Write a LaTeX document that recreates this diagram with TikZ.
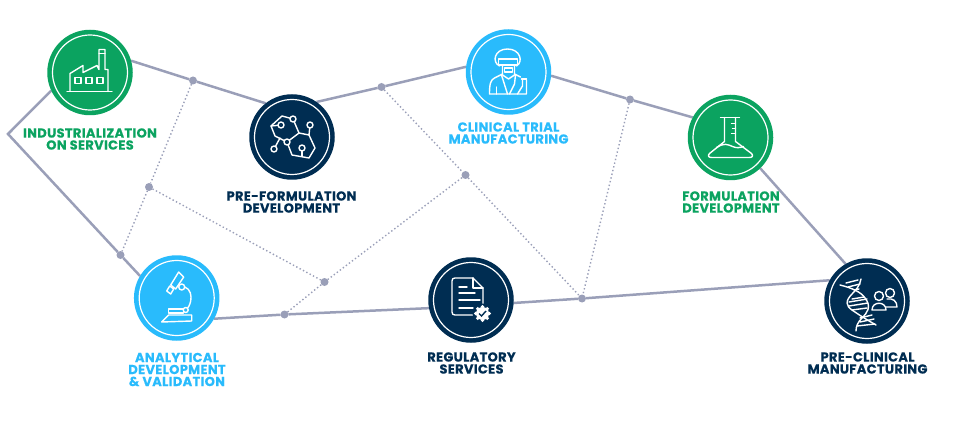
\documentclass[tikz,border=0pt]{standalone}
\usepackage{fontspec}
\newfontfamily\hublabelfont[LetterSpace=2.5,BoldFeatures={FakeBold=0.4}]{Poppins}
\usetikzlibrary{backgrounds}
\definecolor{hubgreen}{HTML}{0BA360}
\definecolor{hubnavy}{HTML}{002D52}
\definecolor{hubblue}{HTML}{29BBFC}
\definecolor{wireline}{HTML}{9A9FB8}
\tikzset{
	hub/.style={circle,minimum size=85.5pt,inner sep=0pt,outer sep=0pt},
	knot/.style={circle,fill=wireline,minimum size=8pt,inner sep=0pt,outer sep=0pt},
	hubname/.style={font=\hublabelfont\bfseries\fontsize{13}{12}\selectfont,align=center,inner sep=0pt},
	wire/.style={draw=wireline,line width=2.5pt},
	dotwire/.style={draw=wireline,line width=1.4pt,dash pattern=on 1.4pt off 2.4pt},
	ring/.style={draw=white,line width=1.2pt},
	iconline/.style={draw=white,line width=1.4pt,line join=round,line cap=round},
}
\begin{document}
\begin{tikzpicture}[x=1pt,y=-1pt]
	\useasboundingbox (0,0) rectangle (968,430);
	
	\node[hub,fill=hubgreen] (factory) at (90,72.5) {};
	\node[hub,fill=hubnavy] (preform) at (292,137) {};
	\node[hub,fill=hubblue] (clinical) at (508.5,72) {};
	\node[hub,fill=hubgreen] (formul) at (730.5,137.5) {};
	\node[hub,fill=hubblue] (analytic) at (176.7,298) {};
	\node[hub,fill=hubnavy] (regul) at (471,300) {};
	\node[hub,fill=hubnavy] (preclin) at (867,301) {};
	
	\node[knot] (topa) at (193,80.5) {};
	\node[knot] (topb) at (381.5,87) {};
	\node[knot] (topc) at (630,99.5) {};
	\node[knot] (midg) at (149,187) {};
	\node[knot] (midi) at (465.5,175) {};
	\node[knot] (midh) at (324.5,282) {};
	\node[knot] (lowd) at (120.5,255) {};
	\node[knot] (lowe) at (284.5,314.5) {};
	\node[knot] (lowf) at (582,298.5) {};
	\coordinate (elbow) at (8,134);
	
	\begin{pgfonlayer}{background}
	\draw[wire] (factory.16) -- (topa) -- (preform.128);
	\draw[wire] (preform.55) -- (topb) -- (clinical.173);
	\draw[wire] (clinical.-5) -- (topc) -- (formul.152);
	\draw[wire] (formul.-46) -- (preclin.120);
	\draw[wire] (factory.205) -- (elbow) -- (lowd) -- (analytic.149);
	\draw[wire] (analytic.-29) -- (lowe) -- (regul.191);
	\draw[wire] (regul.-4) -- (lowf) -- (preclin.151);
	\draw[dotwire] (topa) -- (midg) -- (lowd);
	\draw[dotwire] (midg) -- (midh);
	\draw[dotwire] (lowe) -- (midh) -- (midi);
	\draw[dotwire] (topb) -- (midi) -- (lowf);
	\draw[dotwire] (topc) -- (lowf);
	\end{pgfonlayer}
	
	\draw[ring] (factory.center) circle (37.5);
	\draw[ring] (preform.center) circle (37.5);
	\draw[ring] (clinical.center) circle (37.5);
	\draw[ring] (formul.center) circle (37.5);
	\draw[ring] (analytic.center) circle (37.5);
	\draw[ring] (regul.center) circle (37.5);
	\draw[ring] (preclin.center) circle (37.5);
	
	\node[hubname,text=hubgreen] (factorytext) at (90,139) {INDUSTRIALIZATION\\ON SERVICES};
	\node[hubname,text=hubnavy] (preformtext) at (291.5,202) {PRE-FORMULATION\\DEVELOPMENT};
	\node[hubname,text=hubblue] (clinicaltext) at (508.5,133) {CLINICAL TRIAL\\MANUFACTURING};
	\node[hubname,text=hubgreen] (formultext) at (731,202) {FORMULATION\\DEVELOPMENT};
	\node[hubname,text=hubblue] (analytictext) at (177,369.5) {ANALYTICAL\\DEVELOPMENT\\\& VALIDATION};
	\node[hubname,text=hubnavy] (regultext) at (471.5,363) {REGULATORY\\SERVICES};
	\node[hubname,text=hubnavy] (preclintext) at (867.5,363) {PRE-CLINICAL\\MANUFACTURING};
	
	% factory
	\begin{scope}[shift={(90,72.5)}]
	\draw[iconline] (-23,19) -- (22,19);
	\draw[iconline] (-20,19) -- (-20,1) -- (-7,-7) -- (-7,0) -- (7,-7) -- (9,-3) -- (9,-23) -- (15,-23) -- (15,-3) -- (18,-3) -- (18,19);
	\draw[iconline] (9,-19) -- (15,-19);
	\draw[iconline] (-15,5) rectangle (-9,11);
	\draw[iconline] (-4,5) rectangle (2,11);
	\draw[iconline] (7,5) rectangle (13,11);
	\end{scope}
	
	% molecule
	\begin{scope}[shift={(292,137)}]
	\draw[iconline] (-10,-21) -- (1,-18) -- (7,-4) -- (-5,5) -- (-17,-1) -- (-21,-11) -- cycle;
	\draw[iconline] (-5,5) -- (0,18) -- (17,21) -- (23,11) -- (17,-2) -- (7,-4);
	\draw[iconline] (-11,-12) -- (-21,-11);
	\draw[iconline] (18,-12) -- (17,-2);
	\draw[iconline] (-18,12) -- (-12,1);
	\draw[iconline] (10,11) -- (10,19);
	\draw[iconline,fill=hubnavy] (-11,-12) circle (3);
	\draw[iconline,fill=hubnavy] (1,-18) circle (3);
	\draw[iconline,fill=hubnavy] (18,-12) circle (3);
	\draw[iconline,fill=hubnavy] (-18,12) circle (3);
	\draw[iconline,fill=hubnavy] (-5,5) circle (3);
	\draw[iconline,fill=hubnavy] (10,11) circle (3);
	\end{scope}
	
	% technician
	\begin{scope}[shift={(508.5,72)}]
	\draw[iconline] (-9,-6) .. controls (-17,-10) and (-14,-23) .. (-1,-23) .. controls (12,-23) and (15,-10) .. (8,-6);
	\draw[iconline] (-10,-13) rectangle (9,-7);
	\draw[iconline] (-4,-4) -- (4,-4) -- (4,0) -- (-4,0) -- cycle;
	\draw[iconline] (-6,-6) -- (-6,3) -- (0,7) -- (6,3) -- (6,-6);
	\draw[iconline] (-6,2) -- (-14,6) .. controls (-18,8) and (-19,12) .. (-19,22) -- (18,22) -- (18,8);
	\draw[iconline] (6,2) -- (12,5);
	\draw[iconline] (-7,3) -- (-1,22);
	\draw[iconline] (7,3) -- (6,12) -- (1,22);
	\draw[iconline] (-12,22) -- (-12,15);
	\draw[iconline] (13,7) -- (18,7);
	\draw[iconline] (14,7) -- (14,14) -- (9,22);
	\draw[iconline] (18,7) -- (18,14);
	\end{scope}
	
	% flask
	\begin{scope}[shift={(730.5,137.5)}]
	\draw[iconline] (-10,-20) -- (9,-20);
	\draw[iconline] (-6,-20) -- (-6,4) -- (-21,16) .. controls (-23,18) and (-22,20) .. (-19,20) -- (19,20) .. controls (22,20) and (23,18) .. (21,16) -- (5,4) -- (5,-20);
	\draw[iconline] (1,-14) -- (5,-14);
	\draw[iconline] (2,-9) -- (5,-9);
	\draw[iconline] (1,-4) -- (5,-4);
	\draw[iconline] (-14,10) .. controls (-6,5) and (-3,7) .. (2,9) .. controls (6,11) and (10,10) .. (13,9);
	\end{scope}
	
	% microscope
	\begin{scope}[shift={(176.7,298)}]
	\draw[iconline] (2,-26) -- (7,-21) -- (-1,-9) -- (-6,-13) -- cycle;
	\draw[iconline] (-7,-12) -- (-3,-9) -- (-6,-4) -- (-10,-7) -- cycle;
	\draw[iconline] (8,-11) .. controls (14,-9) and (15,-2) .. (14,3) .. controls (13,7) and (12,9) .. (11,10);
	\draw[iconline] (-8,11) rectangle (7,15);
	\draw[iconline] (-15,24) -- (-8,17) -- (15,17) -- (15,23) -- cycle;
	\draw[iconline,fill=hubblue] (5,-11) circle (3);
	\draw[iconline,fill=hubblue] (9,12) circle (2.5);
	\end{scope}
	
	% document
	\begin{scope}[shift={(471,300)}]
	\draw[iconline] (3,15) -- (-16,15) .. controls (-18,15) and (-19,14) .. (-19,12) -- (-19,-19) .. controls (-19,-21) and (-18,-22) .. (-16,-22) -- (2,-22) -- (12,-12) -- (12,5);
	\draw[iconline] (2,-22) -- (2,-12) -- (12,-12);
	\draw[iconline] (-12,-13) -- (-4,-13);
	\draw[iconline] (-12,-7) -- (4,-7);
	\draw[iconline] (-12,0) -- (9,0);
	\draw[iconline] (-12,8) -- (2,8);
	\begin{scope}[shift={(11.5,13.5)}]
	\fill[hubnavy] (0,0) circle (10);
	\fill[white] (0,0) circle (6.5);
	\foreach \a in {0,45,...,315} {
		\fill[white] (\a:6.8) circle (1.8);
	}
	\draw[draw=hubnavy,line width=1.4pt] (-3.5,0) -- (-1,2.5) -- (3.5,-2.5);
	\end{scope}
	\end{scope}
	
	% dna and people
	\begin{scope}[shift={(867,301)}]
	\draw[iconline] (-27,-16) .. controls (-15,-13) and (-6,-9) .. (-2,-3) .. controls (5,6) and (0,12) .. (-5,17) .. controls (-9,21) and (-11,25) .. (-11,30);
	\draw[iconline] (-6,-22) .. controls (-7,-15) and (-12,-10) .. (-15,-7) .. controls (-22,0) and (-21,5) .. (-15,9) .. controls (-8,14) and (2,20) .. (9,24);
	\draw[iconline] (-21,-18) -- (-9,-21);
	\draw[iconline] (-19,-14) -- (-7,-17);
	\draw[iconline] (-13,-11) -- (-8,-12);
	\draw[iconline] (-15,-2) -- (-3,-4);
	\draw[iconline] (-18,1) -- (0,-2);
	\draw[iconline] (-18,5) -- (1,2);
	\draw[iconline] (-15,9) -- (0,7);
	\draw[iconline] (-7,17) -- (5,14);
	\draw[iconline] (-7,21) -- (7,18);
	\draw[iconline] (-10,25) -- (8,23);
	\draw[iconline] (12,-5) circle (4.5);
	\draw[iconline] (23,-8) circle (4.5);
	\draw[iconline] (5,9) .. controls (5,0) and (19,0) .. (19,9) -- cycle;
	\draw[iconline] (19,6) -- (30,6) .. controls (30,0) and (26,-3) .. (20,-2);
	\end{scope}
\end{tikzpicture}
\end{document}
